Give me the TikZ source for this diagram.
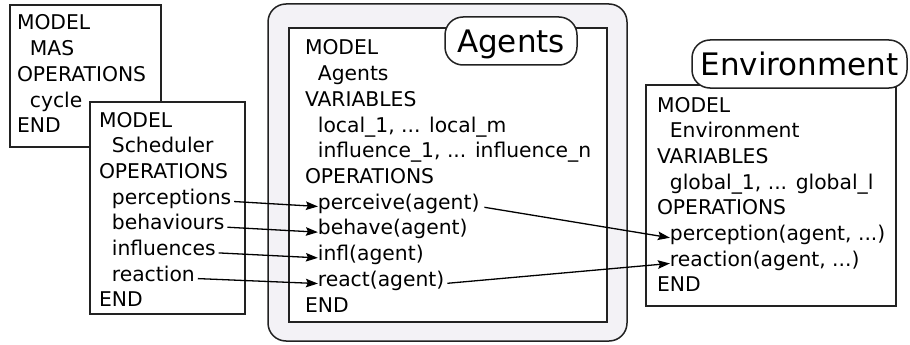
\documentclass[tikz,border=0pt]{standalone}
\usepackage{fontspec}
\setmainfont{DejaVu Sans}
\usepackage{tikz}
\tikzset{
  every node/.style = {
    inner sep = 0pt,
    outer sep = 0pt
  }
}
\usetikzlibrary{
arrows.meta
}
\definecolor{agentsbg}{RGB}{243,242,246}
\definecolor{linegray}{RGB}{34,34,34}

\begin{document}
\begin{tikzpicture}[
        x = 1pt,
        y = -1pt,
        spec line/.style={
          anchor = base west,
          font = \fontsize{20.3}{25}\selectfont,
        },
        spec box/.style={
          draw = linegray,
          line width = 1.5pt,
          fill = white,
          anchor = north west,
        },
        spec label/.style={
          draw = linegray,
          line width = 1.5pt,
          fill = white,
          rounded corners = 18pt,
          minimum height = 48pt,
          text depth = 0pt,
          font = \fontsize{31}{36}\selectfont,
        },
        call/.style={
          line width = 1.3pt,
          -{Stealth[length=12pt, width=8.5pt, inset=2pt]},
          shorten <= 3pt,
        },
        ]
        \useasboundingbox (0,0) rectangle (910,345);

        % main model and its scheduler
        \node [spec box, minimum width=151pt, minimum height=142pt] (mas) at (10,5) {};
        \foreach \ind/\txt [count=\i] in {0/MODEL, 1/MAS, 0/OPERATIONS, 1/cycle, 0/END}
          \node [spec line] (mas-\i) at (17+\ind*12.9, 30+\i*25.7-25.7) {\txt};

        \node [spec box, minimum width=155pt, minimum height=212pt] (sched) at (90,102) {};
        \foreach \ind/\txt [count=\i] in {0/MODEL, 1/Scheduler, 0/OPERATIONS, 1/perceptions,
            1/behaviours, 1/influences, 1/reaction, 0/END}
          \node [spec line] (sched-\i) at (99+\ind*12.9, 127+\i*25.7-25.7) {\txt};

        % agents
        \node [spec box, fill=agentsbg, rounded corners=18pt,
          minimum width=359pt, minimum height=337pt] (agents-frame) at (268,4) {};
        \node [spec box, minimum width=318pt, minimum height=294pt] (agents) at (289,28) {};
        \node [spec label, minimum width=132pt] (agents-label) at (511,41) {Agents};
        \foreach \ind/\txt [count=\i] in {0/MODEL, 1/Agents, 0/VARIABLES,
            1/{local\_1, ... local\_m}, 1/{influence\_1, ... influence\_n}, 0/OPERATIONS,
            1/perceive(agent), 1/behave(agent), 1/infl(agent), 1/react(agent), 0/END}
          \node [spec line] (agents-\i) at (305+\ind*12.9, 55+\i*25.7-25.7) {\txt};

        % environment
        \node [spec box, minimum width=250pt, minimum height=221pt] (env) at (646,85) {};
        \node [spec label, minimum width=215pt] (env-label) at (799.5,64) {Environment};
        \foreach \ind/\txt [count=\i] in {0/MODEL, 1/Environment, 0/VARIABLES,
            1/{global\_1, ... global\_l}, 0/OPERATIONS,
            1/{perception(agent, ...)}, 1/{reaction(agent, ...)}, 0/END}
          \node [spec line] (env-\i) at (657+\ind*12.9, 112+\i*25.7-25.7) {\txt};

        \draw [call] (sched-4.mid east) -- (agents-7.mid west);
        \draw [call] (sched-5.mid east) -- (agents-8.mid west);
        \draw [call] (sched-6.mid east) -- (agents-9.mid west);
        \draw [call] (sched-7.mid east) -- (agents-10.mid west);
        \draw [call, shorten <= 5pt] (agents-7.mid east) -- (env-6.mid west);
        \draw [call] (agents-10.mid east) -- (env-7.mid west);
\end{tikzpicture}
\end{document}
